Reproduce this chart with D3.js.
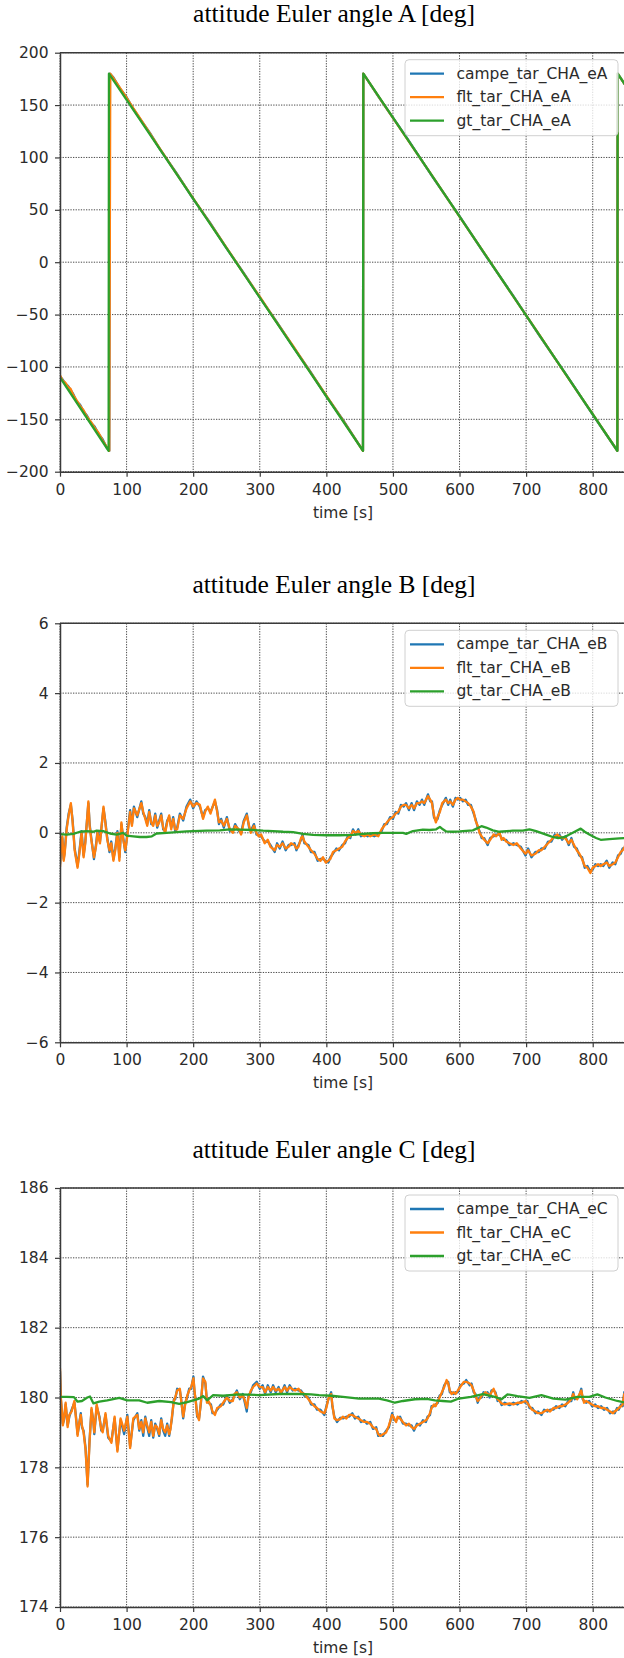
<!DOCTYPE html>
<html>
<head>
<meta charset="utf-8">
<script src="https://cdn.jsdelivr.net/npm/d3@7"></script>
<style>
  html, body { margin: 0; padding: 0; background: #fff; }
  svg { display: block; }
</style>
</head>
<body>
<svg id="fig" width="624" height="1658"></svg>
<script>
// ---- time axis ----
const timeDomain = [0, 850];
const timeTicks = [0, 100, 200, 300, 400, 500, 600, 700, 800];

// ---- Euler angle A [deg] : [time s, angle deg] ----
const campeA = [[0,-109],[4,-112],[8,-116],[12,-118],[16,-122],[20,-126],[25,-133],[30,-136],[35,-142],[40,-146],[46,-153],[52,-157],[58,-164],[64,-169],[70,-177],[74,-180],[75,180],[80,176.5],[90,166],[100,157.5],[110,146.5],[120,137],[135,123.5],[150,108],[175,85],[200,60.5],[225,38],[250,13.5],[275,-9.5],[300,-33.5],[325,-56.5],[350,-80.5],[375,-103.5],[400,-128],[425,-150.5],[455,-180],[455.5,180],[480,156.5],[520,119.5],[560,81],[600,44],[640,5.5],[680,-31.5],[720,-70],[760,-107],[800,-145.5],[837,-180],[837.5,180],[850,168]];
const fltA = [[0,-108],[4,-113],[8,-115],[12,-119],[16,-121],[20,-127],[25,-132],[30,-137],[35,-141],[40,-147],[46,-152],[52,-158],[58,-163],[64,-170],[70,-176],[74,-180],[75.5,180],[80,176],[90,166.5],[100,157],[110,147],[120,137.5],[135,123],[150,108.5],[175,84.5],[200,61],[225,37.5],[250,14],[275,-10],[300,-33],[325,-57],[350,-80],[375,-104],[400,-127.5],[425,-151],[455,-180],[455.5,180],[480,156.7],[520,119],[560,81.5],[600,43.5],[640,6],[680,-32],[720,-69.5],[760,-107.5],[800,-145],[837,-180],[837.5,180],[850,168]];
const gtA = [[0,-110],[73,-180],[73.5,180],[455,-180],[455.5,180],[837,-180],[837.5,180],[850,168]];
const yTicksA = [-200, -150, -100, -50, 0, 50, 100, 150, 200];
const namesA = ["campe_tar_CHA_eA", "flt_tar_CHA_eA", "gt_tar_CHA_eA"];

// ---- Euler angle B [deg] ----
const campeB = [[0,-0.9],[2,-0.25],[3.5,-0.15],[5.5,-0.75],[7,-0.55],[10,0.15],[13,0.55],[16.3,0.8],[19,0.35],[22,-0.45],[26.4,-0.95],[29,-0.55],[32.4,0.05],[35.4,-0.65],[38,-0.25],[42.6,0.85],[44.5,0.25],[47,-0.15],[51,-0.75],[54,-0.35],[56.3,0.05],[60,-0.25],[65.3,0.7],[68,0.35],[71,-0.15],[74.3,-0.55],[77,-0.25],[80.2,-0.75],[83,-0.45],[86.2,0.05],[89.2,-0.7],[92.2,0.25],[95,-0.15],[98,-0.55],[101,-0.05],[105.3,0.65],[108,0.25],[111,0.75],[116,0.45],[122.1,0.9],[125,0.55],[128.1,0.45],[131,0.25],[134,0.65],[137,0.25],[140,0.25],[143,0.55],[146,0.15],[149,0.35],[152,0.55],[155,0.1],[158,0.05],[161,0.35],[164,0.45],[167,0.15],[170,0.45],[173,0.05],[176,0.15],[180,0.55],[185,0.35],[190,0.75],[195.6,0.95],[200,0.7],[205,0.9],[210,0.75],[214.8,0.45],[218,0.65],[222,0.7],[226,0.6],[232.7,0.9],[236,0.65],[238.7,0.25],[242,0.4],[246,0.15],[250.6,0.45],[255,0.05],[259.6,0.05],[263,0.25],[268.6,0.05],[272,0.0],[276,0.35],[280.5,0.55],[284,0.15],[286.5,0.05],[291.3,0.25],[295,-0.05],[298.4,-0.05],[302,-0.1],[307.4,-0.25],[312,-0.25],[316,-0.35],[322.4,-0.55],[326,-0.3],[330,-0.45],[334.3,-0.25],[339,-0.5],[343.3,-0.35],[347,-0.35],[352.2,-0.3],[355,-0.5],[358.2,-0.35],[362,-0.2],[364.2,-0.05],[367,-0.3],[373,-0.35],[377,-0.55],[382.1,-0.55],[387,-0.8],[391.1,-0.75],[395,-0.75],[399,-0.8],[403,-0.85],[406,-0.7],[410,-0.6],[415,-0.45],[419,-0.5],[424,-0.35],[428,-0.3],[432,-0.1],[436,-0.15],[440,0.1],[444,-0.05],[448,0.1],[452,-0.1],[457,-0.05],[462,-0.1],[466,-0.05],[472,-0.1],[478,-0.05],[483,0.05],[487,0.25],[491,0.25],[495.8,0.45],[500,0.4],[504,0.6],[508,0.55],[512,0.8],[516,0.75],[519.7,0.85],[524,0.65],[528,0.85],[531.7,0.65],[536,0.9],[540,0.8],[543.6,0.95],[547,0.8],[552.6,1.1],[556,0.9],[558.6,0.9],[561.6,0.45],[564.5,0.35],[567,0.4],[570.5,0.65],[574,0.8],[579.5,1.0],[583,0.8],[586,0.95],[590,0.75],[594,1.0],[597.4,0.95],[601,1.0],[605,0.9],[609,0.95],[613,0.8],[617,0.8],[621.3,0.55],[624,0.4],[627.3,0.15],[630,0.05],[633.3,-0.15],[637,-0.15],[642.2,-0.35],[646,-0.15],[651.2,-0.1],[655,-0.05],[660.2,-0.05],[663.2,-0.15],[666,-0.2],[670,-0.2],[675,-0.35],[681,-0.3],[686,-0.35],[692,-0.4],[699,-0.65],[703,-0.45],[708,-0.7],[714,-0.55],[719,-0.55],[723,-0.45],[728,-0.45],[733,-0.25],[738,-0.25],[743,-0.05],[747,-0.1],[750,-0.05],[754,-0.2],[759,-0.1],[764,-0.35],[768,-0.15],[772,-0.4],[776,-0.45],[780,-0.65],[784,-0.7],[788,-1.0],[792,-0.95],[796.5,-1.1],[800,-1.05],[804,-0.9],[808,-0.95],[812,-0.9],[816,-0.95],[821,-0.8],[825,-1.0],[830,-0.85],[834,-0.9],[838,-0.65],[842,-0.6],[845,-0.45],[848,-0.45],[850,-0.25]];
const fltB = [[0,-0.98],[2,-0.3],[3.5,-0.1],[5.5,-0.8],[7,-0.6],[10,0.1],[13,0.5],[16.3,0.85],[19,0.3],[22,-0.5],[26.4,-1.0],[29,-0.6],[32.4,0.0],[35.4,-0.7],[38,-0.3],[42.6,0.9],[44.5,0.2],[47,-0.2],[51,-0.7],[54,-0.4],[56.3,0.0],[60,-0.3],[65.3,0.75],[68,0.3],[71,-0.2],[74.3,-0.5],[77,-0.3],[80.2,-0.8],[83,-0.5],[86.2,0.0],[89.2,-0.8],[92.2,0.3],[95,-0.2],[98,-0.5],[101,-0.1],[105.3,0.6],[108,0.2],[111,0.7],[116,0.5],[122.1,0.85],[125,0.6],[128.1,0.4],[131,0.2],[134,0.6],[137,0.3],[140,0.2],[143,0.5],[146,0.2],[149,0.3],[152,0.5],[155,0.15],[158,0.0],[161,0.3],[164,0.5],[167,0.1],[170,0.4],[173,0.1],[176,0.1],[180,0.5],[185,0.4],[190,0.7],[195.6,0.9],[200,0.75],[205,0.85],[210,0.8],[214.8,0.4],[218,0.6],[222,0.75],[226,0.55],[232.7,0.95],[236,0.6],[238.7,0.3],[242,0.35],[246,0.2],[250.6,0.4],[255,0.1],[259.6,0.0],[263,0.2],[268.6,0.1],[272,-0.05],[276,0.3],[280.5,0.5],[284,0.2],[286.5,0.0],[291.3,0.2],[295,0.0],[298.4,-0.1],[302,-0.05],[307.4,-0.3],[312,-0.2],[316,-0.4],[322.4,-0.5],[326,-0.35],[330,-0.4],[334.3,-0.3],[339,-0.45],[343.3,-0.4],[347,-0.3],[352.2,-0.35],[355,-0.45],[358.2,-0.4],[362,-0.15],[364.2,-0.1],[367,-0.25],[373,-0.4],[377,-0.5],[382.1,-0.6],[387,-0.75],[391.1,-0.8],[395,-0.7],[399,-0.85],[403,-0.8],[406,-0.75],[410,-0.55],[415,-0.5],[419,-0.45],[424,-0.4],[428,-0.25],[432,-0.15],[436,-0.1],[440,0.05],[444,0.0],[448,0.05],[452,-0.05],[457,-0.1],[462,-0.05],[466,-0.1],[472,-0.05],[478,-0.1],[483,0.1],[487,0.2],[491,0.3],[495.8,0.4],[500,0.45],[504,0.55],[508,0.6],[512,0.75],[516,0.8],[519.7,0.8],[524,0.7],[528,0.8],[531.7,0.7],[536,0.85],[540,0.85],[543.6,0.9],[547,0.85],[552.6,1.05],[556,0.95],[558.6,0.85],[561.6,0.5],[564.5,0.3],[567,0.45],[570.5,0.6],[574,0.85],[579.5,0.95],[583,0.85],[586,0.9],[590,0.8],[594,0.95],[597.4,1.0],[601,0.95],[605,0.95],[609,0.9],[613,0.85],[617,0.75],[621.3,0.6],[624,0.35],[627.3,0.2],[630,0.0],[633.3,-0.1],[637,-0.2],[642.2,-0.3],[646,-0.2],[651.2,-0.05],[655,-0.1],[660.2,0.0],[663.2,-0.2],[666,-0.15],[670,-0.25],[675,-0.3],[681,-0.35],[686,-0.3],[692,-0.45],[699,-0.6],[703,-0.5],[708,-0.65],[714,-0.6],[719,-0.5],[723,-0.5],[728,-0.4],[733,-0.3],[738,-0.2],[743,-0.1],[747,-0.05],[750,-0.1],[754,-0.15],[759,-0.15],[764,-0.3],[768,-0.2],[772,-0.35],[776,-0.5],[780,-0.6],[784,-0.75],[788,-0.95],[792,-1.0],[796.5,-1.15],[800,-1.0],[804,-0.95],[808,-0.9],[812,-0.95],[816,-0.9],[821,-0.85],[825,-0.95],[830,-0.9],[834,-0.85],[838,-0.7],[842,-0.55],[845,-0.5],[848,-0.4],[850,-0.3]];
const gtB = [[0,-0.04],[10,-0.05],[20,-0.03],[30,0.03],[40,0.05],[50,0.03],[55,0.06],[65,0.05],[75,-0.02],[85,-0.05],[95,0.0],[100,-0.08],[110,-0.1],[120,-0.12],[130,-0.12],[138,-0.1],[145,-0.02],[160,0.0],[175,0.02],[190,0.04],[200,0.05],[220,0.06],[240,0.07],[255,0.1],[270,0.09],[290,0.08],[305,0.06],[320,0.05],[335,0.03],[350,0.02],[365,-0.03],[380,-0.06],[400,-0.07],[420,-0.07],[440,-0.06],[455,-0.03],[470,-0.01],[485,0.0],[500,0.0],[515,0.0],[520,-0.03],[530,0.05],[545,0.09],[555,0.08],[565,0.1],[570.5,0.17],[575,0.1],[580,0.04],[590,0.03],[600,0.04],[620,0.07],[633,0.19],[640,0.15],[650,0.07],[660,0.03],[680,0.06],[695,0.06],[705,0.1],[715,0.05],[730,-0.05],[740,-0.12],[748,-0.15],[758,-0.12],[765,-0.05],[775,0.05],[782,0.12],[788,0.03],[795,-0.05],[805,-0.15],[812,-0.2],[825,-0.18],[840,-0.16],[850,-0.15]];
const yTicksB = [-6, -4, -2, 0, 2, 4, 6];
const namesB = ["campe_tar_CHA_eB", "flt_tar_CHA_eB", "gt_tar_CHA_eB"];

// ---- Euler angle C [deg] ----
const campeC = [[0,180.75],[1.3,179.95],[4.3,179.25],[6,179.35],[8.5,179.8],[11.5,179.2],[14,179.45],[17.5,179.65],[21.6,179.85],[24,179.45],[26.4,178.95],[29,179.25],[31.2,179.55],[33,179.15],[35.4,179.05],[38.4,178.55],[41.4,177.5],[44.3,178.75],[47.3,179.65],[50,179.35],[51.5,178.95],[55.1,179.75],[59.3,179.45],[62,179.05],[64.1,179.05],[68.3,179.5],[72.4,178.85],[77.2,178.75],[82,179.4],[86.2,178.5],[91,179.35],[96.4,178.95],[101.1,179.5],[105.3,178.6],[110.1,179.35],[116.1,179.55],[119,179.05],[122.1,179.35],[125,178.9],[128.1,179.45],[131,179.15],[134,178.9],[137,179.35],[140,178.85],[143,179.25],[146,179.1],[149,178.9],[152,179.4],[155,179.05],[158,178.9],[161,179.25],[164,178.9],[166,179.15],[168.1,179.4],[171,179.95],[173,179.95],[176,180.25],[180,180.2],[182,179.95],[185,179.4],[188,179.85],[191,180.0],[194,180.25],[197,180.25],[200.4,180.6],[202,180.15],[204,179.9],[206,179.45],[208.8,179.4],[211.7,179.85],[214.8,180.6],[218.3,180.4],[220.7,179.9],[223,179.85],[226.7,179.8],[229,179.55],[232.7,179.55],[236,179.65],[241.6,179.8],[245,179.8],[250.6,180.05],[255,179.85],[259.6,179.95],[262,180.05],[265.6,180.2],[270,179.95],[274.5,180.1],[277,179.9],[280.5,179.6],[283,180.05],[286.5,180.15],[290,180.35],[295.5,180.45],[300,180.25],[304.4,180.35],[308,180.1],[312,180.35],[316.4,180.15],[320,180.35],[324,180.15],[328.3,180.3],[332,180.1],[337.3,180.35],[341,180.15],[345,180.35],[349.3,180.2],[353,180.25],[358.2,180.2],[362,180.2],[367.2,180.05],[373.2,180.0],[377,179.8],[382.1,179.8],[386,179.65],[391.1,179.65],[397.1,179.5],[400,179.75],[403.1,179.95],[407.2,180.15],[409,179.75],[412,179.45],[416,179.3],[421,179.42],[425,179.4],[430,179.45],[434,179.45],[439,179.55],[443,179.4],[448,179.45],[452,179.3],[456.9,179.35],[461,179.25],[465.9,179.3],[470,179.1],[474.9,179.15],[478,178.9],[480.9,178.95],[485,178.9],[489.8,179.05],[494,179.15],[498.8,179.55],[502,179.35],[504.8,179.35],[507,179.4],[510.7,179.45],[515,179.25],[519.7,179.25],[524,179.2],[528,179.2],[531.7,179.05],[536,179.25],[540.6,179.2],[545,179.35],[549.6,179.3],[552,179.45],[555.6,179.5],[558,179.75],[561.6,179.75],[564,179.8],[567.5,179.85],[570,180.05],[573.5,180.1],[577,180.35],[580.6,180.45],[583,180.45],[585.4,180.15],[588,180.15],[591.4,180.1],[594,180.15],[597.4,180.15],[601,180.35],[606.4,180.4],[610,180.5],[615.3,180.35],[618,180.4],[621.3,180.15],[624,180.1],[627.3,179.85],[630,180.0],[633.3,180.0],[636,180.15],[639.3,180.1],[642,180.15],[645.2,180.0],[648,180.2],[651.2,180.2],[654,180.15],[657.2,179.9],[660,179.95],[663.2,179.78],[668,179.85],[675.1,179.78],[681,179.85],[687.1,179.8],[693,179.9],[699.1,179.85],[702,179.9],[705,179.7],[709,179.7],[714,179.55],[718,179.6],[723,179.5],[727,179.65],[732,179.6],[736,179.65],[740.9,179.65],[745,179.75],[749.9,179.7],[754,179.8],[758.9,179.75],[763,179.9],[767.9,179.9],[770.8,180.15],[773,179.95],[776.8,180.0],[779,180.0],[782.8,180.25],[785,179.95],[787,179.9],[790,179.85],[794.7,179.9],[799,179.75],[803.7,179.8],[808,179.7],[812.7,179.75],[817,179.65],[821.6,179.7],[826,179.55],[830.6,179.6],[833,179.55],[836.6,179.7],[839,179.65],[842.6,179.8],[845,179.75],[847.4,180.15],[850,180.1]];
const fltC = [[0,180.83],[1.3,180.0],[4.3,179.2],[6,179.4],[8.5,179.85],[11.5,179.15],[14,179.5],[17.5,179.6],[21.6,179.9],[24,179.4],[26.4,178.9],[29,179.3],[31.2,179.5],[33,179.2],[35.4,179.0],[38.4,178.5],[41.4,177.45],[44.3,178.7],[47.3,179.7],[50,179.3],[51.5,179.0],[55.1,179.8],[59.3,179.4],[62,179.1],[64.1,179.0],[68.3,179.55],[72.4,178.9],[77.2,178.7],[82,179.45],[86.2,178.45],[91,179.4],[96.4,179.05],[101.1,179.45],[105.3,178.55],[110.1,179.4],[116.1,179.5],[119,179.1],[122.1,179.3],[125,179.0],[128.1,179.4],[131,179.2],[134,179.0],[137,179.3],[140,178.9],[143,179.2],[146,179.15],[149,178.95],[152,179.35],[155,179.1],[158,179.0],[161,179.2],[164,178.95],[166,179.1],[168.1,179.45],[171,179.9],[173,180.0],[176,180.2],[180,180.25],[182,179.9],[185,179.45],[188,179.8],[191,180.05],[194,180.2],[197,180.3],[200.4,180.55],[202,180.2],[204,179.85],[206,179.5],[208.8,179.35],[211.7,179.9],[214.8,180.55],[218.3,180.45],[220.7,179.85],[223,179.9],[226.7,179.75],[229,179.6],[232.7,179.5],[236,179.7],[241.6,179.75],[245,179.85],[250.6,180.0],[255,179.9],[259.6,179.9],[262,180.1],[265.6,180.15],[270,180.0],[274.5,180.05],[277,179.95],[280.5,179.7],[283,180.0],[286.5,180.2],[290,180.3],[295.5,180.4],[300,180.3],[304.4,180.3],[308,180.15],[312,180.3],[316.4,180.2],[320,180.3],[324,180.2],[328.3,180.25],[332,180.15],[337.3,180.3],[341,180.2],[345,180.3],[349.3,180.23],[353,180.2],[358.2,180.25],[362,180.15],[367.2,180.1],[373.2,179.95],[377,179.85],[382.1,179.75],[386,179.7],[391.1,179.6],[397.1,179.55],[400,179.7],[403.1,179.97],[407.2,180.1],[409,179.8],[412,179.4],[416,179.35],[421,179.38],[425,179.45],[430,179.4],[434,179.5],[439,179.5],[443,179.45],[448,179.4],[452,179.35],[456.9,179.3],[461,179.3],[465.9,179.25],[470,179.15],[474.9,179.1],[478,178.95],[480.9,178.9],[485,178.95],[489.8,179.0],[494,179.2],[498.8,179.5],[502,179.4],[504.8,179.3],[507,179.45],[510.7,179.4],[515,179.3],[519.7,179.2],[524,179.25],[528,179.15],[531.7,179.1],[536,179.2],[540.6,179.25],[545,179.3],[549.6,179.35],[552,179.4],[555.6,179.55],[558,179.7],[561.6,179.8],[564,179.75],[567.5,179.9],[570,180.0],[573.5,180.15],[577,180.3],[580.6,180.5],[583,180.4],[585.4,180.2],[588,180.1],[591.4,180.15],[594,180.1],[597.4,180.2],[601,180.3],[606.4,180.45],[610,180.45],[615.3,180.4],[618,180.35],[621.3,180.2],[624,180.05],[627.3,179.9],[630,179.95],[633.3,180.05],[636,180.1],[639.3,180.15],[642,180.1],[645.2,180.05],[648,180.15],[651.2,180.25],[654,180.1],[657.2,179.95],[660,179.9],[663.2,179.83],[668,179.8],[675.1,179.83],[681,179.8],[687.1,179.85],[693,179.85],[699.1,179.9],[702,179.85],[705,179.75],[709,179.65],[714,179.6],[718,179.55],[723,179.55],[727,179.6],[732,179.65],[736,179.6],[740.9,179.7],[745,179.7],[749.9,179.75],[754,179.75],[758.9,179.8],[763,179.85],[767.9,179.95],[770.8,180.1],[773,180.0],[776.8,179.95],[779,180.05],[782.8,180.2],[785,180.0],[787,179.85],[790,179.9],[794.7,179.85],[799,179.8],[803.7,179.75],[808,179.75],[812.7,179.7],[817,179.7],[821.6,179.65],[826,179.6],[830.6,179.55],[833,179.6],[836.6,179.65],[839,179.7],[842.6,179.75],[845,179.8],[847.4,180.1],[850,180.15]];
const gtC = [[0,180.02],[10,180.02],[21,180.01],[26.4,179.88],[33,179.9],[41,180.0],[45,180.03],[50.3,179.83],[59,179.88],[71,179.92],[89,179.99],[101,179.92],[119,179.92],[131,179.85],[149,179.9],[167,179.87],[179,179.82],[191,179.87],[209,179.97],[215,180.04],[221,179.92],[230,180.07],[245,180.05],[269,180.09],[299,180.07],[329,180.1],[359,180.1],[377,180.09],[389,180.07],[407,180.05],[425,180.02],[449,179.97],[479,179.97],[491,179.92],[503,179.85],[515,179.9],[533,179.95],[551,179.96],[563,179.92],[575,179.9],[587,179.88],[599,179.97],[617,180.02],[635,180.1],[653,180.02],[663,179.95],[672,180.09],[687,180.04],[705,179.99],[723,180.07],[741,179.97],[759,179.94],[777,180.02],[795,180.02],[807,180.09],[819,180.0],[837,179.9],[850,179.85]];
const yTicksC = [174, 176, 178, 180, 182, 184, 186];
const namesC = ["campe_tar_CHA_eC", "flt_tar_CHA_eC", "gt_tar_CHA_eC"];

const titles = ["attitude Euler angle A [deg]", "attitude Euler angle B [deg]", "attitude Euler angle C [deg]"];
const seriesColors = ["#1f77b4", "#ff7f0e", "#2ca02c"];

// ---- layout ----
const plotLeft = 60, plotRight = 626, plotH = 419;
const panelTops = [52.7, 623.3, 1188];
const tickFont = "'DejaVu Sans', sans-serif";

const panels = [
  { title: titles[0], series: [campeA, fltA, gtA], names: namesA, ticks: yTicksA },
  { title: titles[1], series: [campeB, fltB, gtB], names: namesB, ticks: yTicksB },
  { title: titles[2], series: [campeC, fltC, gtC], names: namesC, ticks: yTicksC }
];

const svg = d3.select("#fig");
const x = d3.scaleLinear().domain(timeDomain).range([plotLeft, plotRight]);
const fmt = d3.format("d");

panels.forEach((p, i) => {
  const top = panelTops[i], bottom = top + plotH;
  const y = d3.scaleLinear().domain(d3.extent(p.ticks)).range([bottom, top]);
  const g = svg.append("g");

  // title
  g.append("text")
    .attr("x", 334).attr("y", top - 30.5)
    .attr("text-anchor", "middle")
    .style("font-family", "'Liberation Serif', 'Times New Roman', serif")
    .style("font-size", "25.5px")
    .attr("fill", "#000")
    .text(p.title);

  // dotted grid
  const grid = g.append("g").attr("stroke", "#4a4a4a").attr("stroke-width", 1)
    .attr("stroke-dasharray", "1.3,1.3");
  grid.selectAll("line.v").data(timeTicks).join("line")
    .attr("x1", d => x(d)).attr("x2", d => x(d))
    .attr("y1", top).attr("y2", bottom);
  grid.selectAll("line.h").data(p.ticks).join("line")
    .attr("x1", plotLeft).attr("x2", plotRight)
    .attr("y1", d => y(d)).attr("y2", d => y(d));

  // series lines
  const clipId = "clip" + i;
  svg.append("clipPath").attr("id", clipId).append("rect")
    .attr("x", plotLeft).attr("y", top).attr("width", plotRight - plotLeft).attr("height", plotH);
  const line = d3.line().x(d => x(d[0])).y(d => y(d[1]));
  const lines = g.append("g").attr("clip-path", `url(#${clipId})`);
  p.series.forEach((s, k) => {
    lines.append("path").datum(s)
      .attr("d", line)
      .attr("fill", "none")
      .attr("stroke", seriesColors[k])
      .attr("stroke-width", 2.3)
      .attr("stroke-linejoin", "round")
      .attr("stroke-linecap", "round");
  });

  // axes
  const yAxis = g.append("g").attr("transform", `translate(${plotLeft},0)`)
    .call(d3.axisLeft(y).tickValues(p.ticks).tickFormat(fmt).tickSize(5).tickSizeOuter(0).tickPadding(6.5));
  const xAxis = g.append("g").attr("transform", `translate(0,${bottom})`)
    .call(d3.axisBottom(x).tickValues(timeTicks).tickFormat(fmt).tickSize(5).tickSizeOuter(0).tickPadding(7));
  [yAxis, xAxis].forEach(a => {
    a.select(".domain").attr("stroke", "#3a3a3a").attr("stroke-width", 1.5);
    a.selectAll(".tick line").attr("stroke", "#3a3a3a").attr("stroke-width", 1.2);
    a.selectAll(".tick text").attr("fill", "#2b2b2b")
      .style("font-family", tickFont).style("font-size", "15.5px");
  });
  // top spine
  g.append("line").attr("x1", plotLeft).attr("x2", plotRight)
    .attr("y1", top).attr("y2", top).attr("stroke", "#3a3a3a").attr("stroke-width", 1.5);

  // x label
  g.append("text")
    .attr("x", 343).attr("y", bottom + 46)
    .attr("text-anchor", "middle")
    .style("font-family", tickFont).style("font-size", "15.5px")
    .attr("fill", "#2b2b2b")
    .text("time [s]");

  // legend
  const lg = g.append("g").attr("transform", `translate(405,${top + 7})`);
  lg.append("rect").attr("width", 213).attr("height", 76).attr("rx", 4)
    .attr("fill", "#fff").attr("fill-opacity", 0.8)
    .attr("stroke", "#d0d0d0").attr("stroke-width", 1);
  p.names.forEach((name, k) => {
    const ry = 14 + k * 23.5;
    lg.append("line").attr("x1", 5).attr("x2", 39).attr("y1", ry).attr("y2", ry)
      .attr("stroke", seriesColors[k]).attr("stroke-width", 2.3);
    lg.append("text").attr("x", 51.5).attr("y", ry)
      .attr("dominant-baseline", "central")
      .style("font-family", tickFont).style("font-size", "15.5px")
      .attr("fill", "#2b2b2b")
      .text(name);
  });
});
</script>
</body>
</html>
